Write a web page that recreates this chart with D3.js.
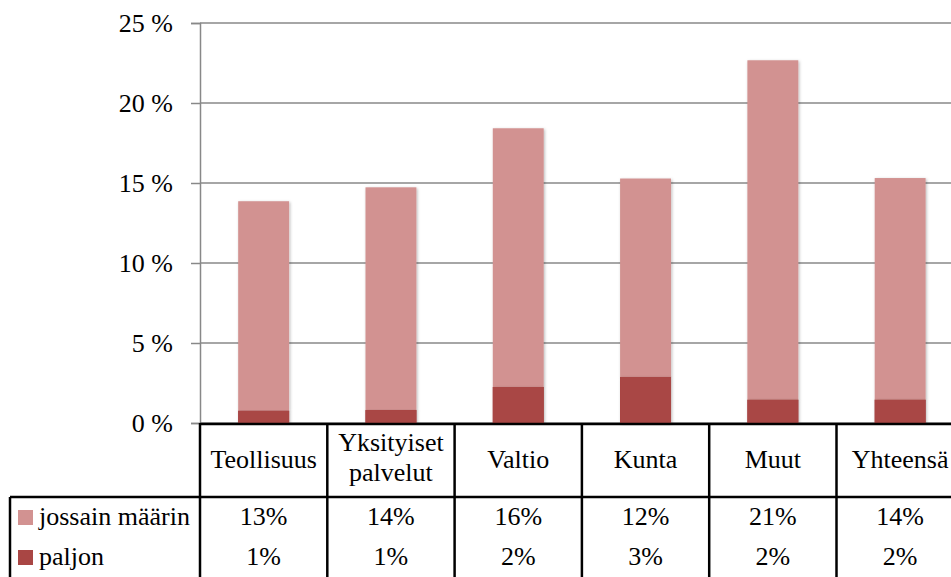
<!DOCTYPE html>
<html><head><meta charset="utf-8">
<script src="https://cdn.jsdelivr.net/npm/d3@7"></script>
<style>
html,body{margin:0;padding:0;background:#fff;}
svg{display:block;}
svg text{font-family:"Liberation Serif","DejaVu Serif",serif;}
</style></head>
<body><div id="chart"></div>
<script>
const categories = ["Teollisuus", "Yksityiset\npalvelut", "Valtio", "Kunta", "Muut", "Yhteensä"];
const seriesNames = ["jossain määrin", "paljon"];
const paljon = [0.77, 0.81, 2.25, 2.88, 1.46, 1.46];
const jossain = [13.09, 13.92, 16.17, 12.40, 21.21, 13.85];
const jossainLabels = ["13%", "14%", "16%", "12%", "21%", "14%"];
const paljonLabels = ["1%", "1%", "2%", "3%", "2%", "2%"];
const yTicks = [0, 5, 10, 15, 20, 25];
const colors = {paljon: "#A94644", jossain: "#D29291"};

const W = 951, H = 577, FS = 26;
const svg = d3.select("#chart").append("svg").attr("width", W).attr("height", H);

const defs = svg.append("defs");
const f = defs.append("filter").attr("id","sh").attr("x","-20%").attr("y","-5%").attr("width","140%").attr("height","110%");
f.append("feDropShadow").attr("dx",1).attr("dy",1).attr("stdDeviation",1.6).attr("flood-color","#000").attr("flood-opacity",0.28);

const step = 127.3;
const x0 = 200;
const x = d3.scaleBand().domain(categories).range([x0, x0 + step*categories.length]).paddingInner(0.6).paddingOuter(0.3);
const y = d3.scaleLinear().domain([0, 25]).range([423, 23]);

// gridlines
svg.append("g").selectAll("line").data(yTicks).join("line")
  .attr("x1", x0).attr("x2", x0 + step*categories.length)
  .attr("y1", d => y(d)).attr("y2", d => y(d))
  .attr("stroke", "#888").attr("stroke-width", 1.5);

// y axis
const yAxis = d3.axisLeft(y).tickValues(yTicks).tickSize(9).tickPadding(18).tickFormat(d => d + " %");
const ga = svg.append("g").attr("transform", `translate(${x0},0)`).call(yAxis);
ga.attr("font-family", null);
ga.select(".domain").attr("stroke", "#888").attr("stroke-width", 1.5);
ga.selectAll(".tick line").attr("stroke", "#888").attr("stroke-width", 1.5);
ga.selectAll(".tick text").attr("font-size", FS).attr("fill", "#000").attr("dy", "0.32em");

// stacked bars
const data = categories.map((c, i) => ({cat: c, paljon: paljon[i], jossain: jossain[i]}));
const stack = d3.stack().keys(["paljon", "jossain"])(data);
const gb = svg.append("g");
stack.forEach(layer => {
  gb.append("g").attr("fill", colors[layer.key]).selectAll("rect").data(layer).join("rect")
    .attr("x", d => x(d.data.cat)).attr("width", x.bandwidth())
    .attr("y", d => y(d[1])).attr("height", d => y(d[0]) - y(d[1]))
    .attr("filter", layer.key === "jossain" ? "url(#sh)" : null);
});
gb.append("g").attr("fill", colors.paljon).selectAll("rect").data(stack[0]).join("rect")
  .attr("x", d => x(d.data.cat)).attr("width", x.bandwidth())
  .attr("y", d => y(d[1])).attr("height", d => y(d[0]) - y(d[1]))
  .attr("filter", "url(#sh)");

// data table
const tableTop = 423, headerBottom = 497, tableLeft = 10;
const tg = svg.append("g").attr("stroke", "#000").attr("stroke-width", 2.5);
tg.append("line").attr("x1", x0).attr("x2", x0 + step*categories.length).attr("y1", tableTop+1).attr("y2", tableTop+1);
tg.append("line").attr("x1", tableLeft).attr("x2", x0 + step*categories.length).attr("y1", headerBottom).attr("y2", headerBottom);
tg.append("line").attr("x1", tableLeft).attr("x2", tableLeft).attr("y1", headerBottom).attr("y2", H + 5);
tg.selectAll("line.col").data(categories.concat(["_end"])).join("line").attr("class","col")
  .attr("x1", (c, i) => x0 + i*x.step()).attr("x2", (c, i) => x0 + i*x.step())
  .attr("y1", tableTop).attr("y2", H + 5);

// category labels
const tl = svg.append("g").attr("font-size", FS).attr("text-anchor", "middle").attr("fill", "#000");
categories.forEach(c => {
  const lines = c.split("\n");
  const cx = x(c) + x.bandwidth()/2;
  const t = tl.append("text").attr("x", cx);
  if (lines.length === 1) {
    t.attr("y", 468).text(c);
  } else {
    lines.forEach((ln, j) => t.append("tspan").attr("x", cx).attr("y", 451 + j*30).text(ln));
  }
});

// values rows
const rows = [{name: seriesNames[0], labels: jossainLabels, color: colors.jossain, base: 525},
              {name: seriesNames[1], labels: paljonLabels, color: colors.paljon, base: 565}];
const rg = svg.append("g").attr("font-size", FS).attr("fill", "#000");
rows.forEach(r => {
  rg.append("rect").attr("x", 18).attr("y", r.base - 15).attr("width", 15).attr("height", 15).attr("fill", r.color);
  rg.append("text").attr("x", 39).attr("y", r.base).text(r.name);
  rg.append("g").attr("text-anchor", "middle").selectAll("text").data(categories).join("text")
    .attr("x", c => x(c) + x.bandwidth()/2).attr("y", r.base).text((c, i) => r.labels[i]);
});
</script></body></html>
